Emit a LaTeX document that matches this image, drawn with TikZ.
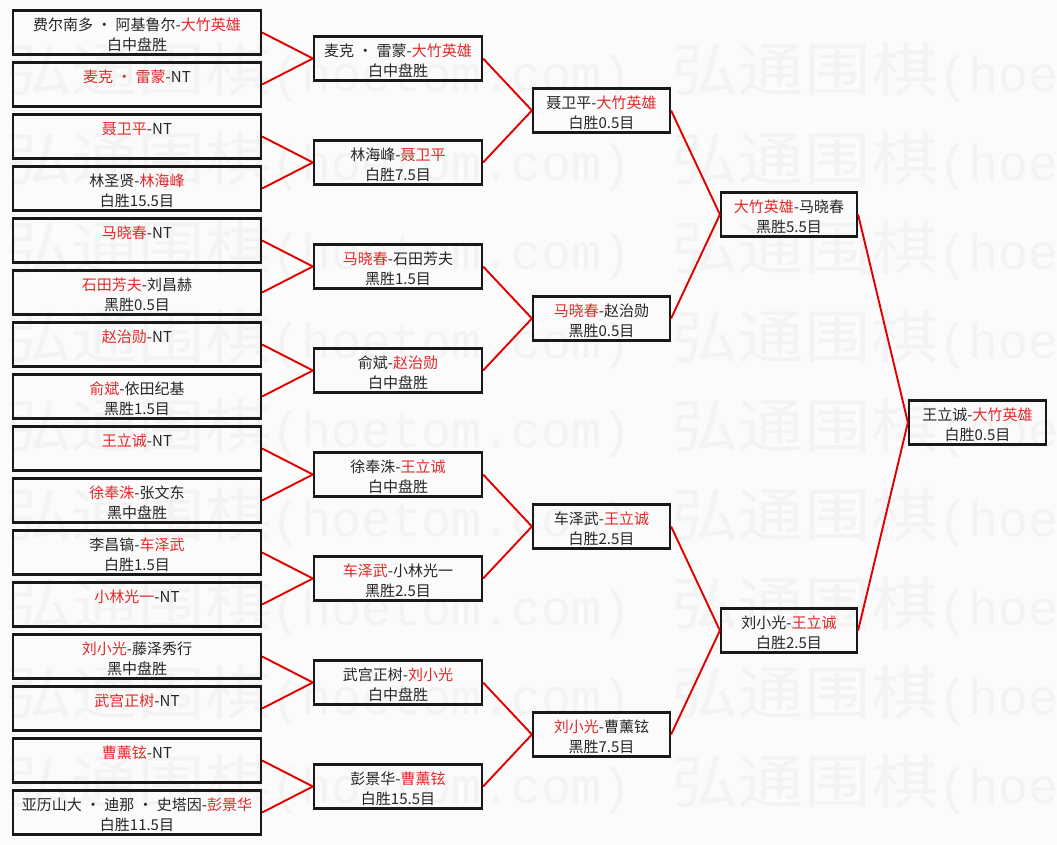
\documentclass[tikz,border=0pt]{standalone}
\usepackage{fontspec}
\setmainfont{Noto Sans CJK SC}
\newfontfamily\wmmono{Liberation Mono}
\usepackage{graphicx}
\definecolor{wred}{RGB}{228,40,40}
\definecolor{lred}{RGB}{225,0,0}
\definecolor{wm}{RGB}{243,243,243}
\definecolor{bg}{RGB}{251,251,251}
\tikzset{
  frame/.style={draw=black!90, line width=2.2pt, minimum height=44pt, inner sep=0pt},
  txt/.style={align=center, inner sep=0pt, font=\fontsize{15}{19.5}\selectfont, text=black!85},
  link/.style={draw=lred, line width=1.9pt},
  wmark/.style={anchor=west, inner sep=0pt, text=wm}
}
\newcommand{\rd}[1]{\textcolor{wred}{#1}}
\newcommand{\dt}{\hspace{0.25em}·\hspace{0.25em}}
\newcommand{\gamebox}[6]{%
  \node[frame, minimum width=#4] (#1) at (#2,#3) {};
  \node[txt] (#1t) at ([yshift=-4pt]#1.center) {\strut #5\\\strut #6};
}
\newcommand{\wmcjk}{\scalebox{1.15}[1]{\fontsize{58}{58}\selectfont 弘通围棋}}
\newcommand{\wmtext}{\wmcjk{\wmmono\fontsize{50}{50}\selectfont (hoetom.com)}}
\newcommand{\wmpart}{\wmcjk{\wmmono\fontsize{50}{50}\selectfont (hoe}}
\begin{document}
\begin{tikzpicture}[x=1pt,y=-1pt]
\useasboundingbox (0,0) rectangle (1057,845);
\fill[bg] (0,0) rectangle (1057,845);
\foreach \k in {0,...,8} {
  \node[wmark] (wmA\k) at (5,72+89*\k) {\wmtext};
  \node[wmark] (wmB\k) at (671,72+89*\k) {\wmpart};
}
% column 1
\gamebox{a1}{137}{32.5}{248}{费尔南多\dt 阿基鲁尔-\rd{大竹英雄}}{白中盘胜}
\gamebox{a2}{137}{84.5}{248}{\rd{麦克\dt 雷蒙}-NT}{}
\gamebox{a3}{137}{136.5}{248}{\rd{聂卫平}-NT}{}
\gamebox{a4}{137}{188.5}{248}{林圣贤-\rd{林海峰}}{白胜15.5目}
\gamebox{a5}{137}{240.5}{248}{\rd{马晓春}-NT}{}
\gamebox{a6}{137}{292.5}{248}{\rd{石田芳夫}-刘昌赫}{黑胜0.5目}
\gamebox{a7}{137}{344.5}{248}{\rd{赵治勋}-NT}{}
\gamebox{a8}{137}{396.5}{248}{\rd{俞斌}-依田纪基}{黑胜1.5目}
\gamebox{a9}{137}{448.5}{248}{\rd{王立诚}-NT}{}
\gamebox{a10}{137}{500.5}{248}{\rd{徐奉洙}-张文东}{黑中盘胜}
\gamebox{a11}{137}{552.5}{248}{李昌镐-\rd{车泽武}}{白胜1.5目}
\gamebox{a12}{137}{604.5}{248}{\rd{小林光一}-NT}{}
\gamebox{a13}{137}{656.5}{248}{\rd{刘小光}-藤泽秀行}{黑中盘胜}
\gamebox{a14}{137}{708.5}{248}{\rd{武宫正树}-NT}{}
\gamebox{a15}{137}{760.5}{248}{\rd{曹薰铉}-NT}{}
\gamebox{a16}{137}{812.5}{248}{亚历山大\dt 迪那\dt 史塔因-\rd{彭景华}}{白胜11.5目}
% column 2
\gamebox{b1}{398}{58.5}{168}{麦克\dt 雷蒙-\rd{大竹英雄}}{白中盘胜}
\gamebox{b2}{398}{162.5}{168}{林海峰-\rd{聂卫平}}{白胜7.5目}
\gamebox{b3}{398}{266.5}{168}{\rd{马晓春}-石田芳夫}{黑胜1.5目}
\gamebox{b4}{398}{370.5}{168}{俞斌-\rd{赵治勋}}{白中盘胜}
\gamebox{b5}{398}{474.5}{168}{徐奉洙-\rd{王立诚}}{白中盘胜}
\gamebox{b6}{398}{578.5}{168}{\rd{车泽武}-小林光一}{黑胜2.5目}
\gamebox{b7}{398}{682.5}{168}{武宫正树-\rd{刘小光}}{白中盘胜}
\gamebox{b8}{398}{786.5}{168}{彭景华-\rd{曹薰铉}}{白胜15.5目}
% column 3
\gamebox{c1}{601.5}{110.5}{137}{聂卫平-\rd{大竹英雄}}{白胜0.5目}
\gamebox{c2}{601.5}{318.5}{137}{\rd{马晓春}-赵治勋}{黑胜0.5目}
\gamebox{c3}{601.5}{526.5}{137}{车泽武-\rd{王立诚}}{白胜2.5目}
\gamebox{c4}{601.5}{734.5}{137}{\rd{刘小光}-曹薰铉}{黑胜7.5目}
% column 4
\gamebox{d1}{789}{214.5}{136}{\rd{大竹英雄}-马晓春}{黑胜5.5目}
\gamebox{d2}{789}{630.5}{136}{刘小光-\rd{王立诚}}{白胜2.5目}
% final
\gamebox{e1}{977.5}{422.5}{137}{王立诚-\rd{大竹英雄}}{白胜0.5目}
% connectors
\foreach \i/\p in {1/1,2/1,3/2,4/2,5/3,6/3,7/4,8/4,9/5,10/5,11/6,12/6,13/7,14/7,15/8,16/8}
  \draw[link] (a\i.east) -- (b\p.west);
\foreach \i/\p in {1/1,2/1,3/2,4/2,5/3,6/3,7/4,8/4}
  \draw[link] (b\i.east) -- (c\p.west);
\foreach \i/\p in {1/1,2/1,3/2,4/2}
  \draw[link] (c\i.east) -- (d\p.west);
\draw[link] (d1.east) -- (e1.west);
\draw[link] (d2.east) -- (e1.west);
\end{tikzpicture}
\end{document}
